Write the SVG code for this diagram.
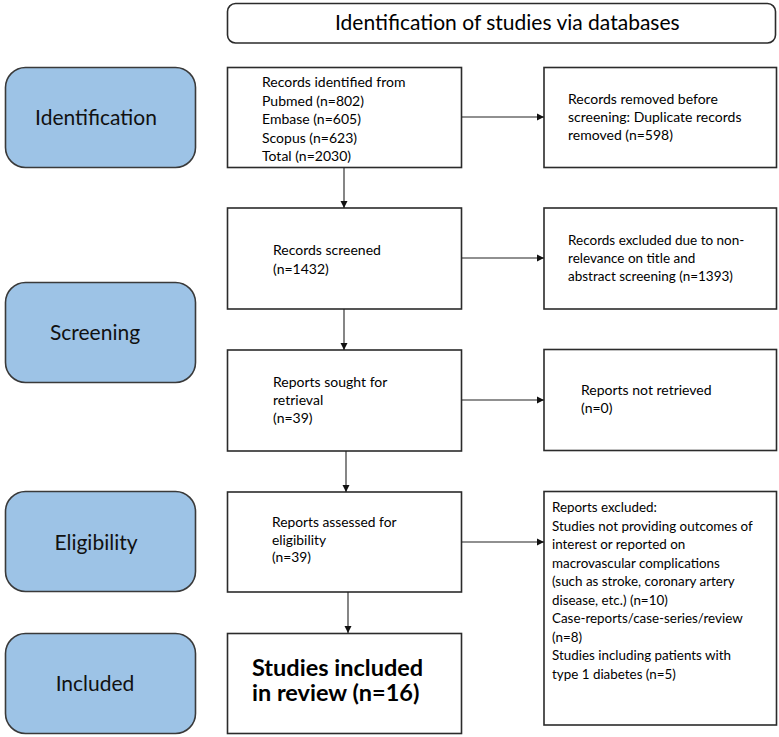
<svg xmlns="http://www.w3.org/2000/svg" width="779" height="737" viewBox="0 0 779 737">
<defs>
<style>
.box{fill:#fff;stroke:#2b2b2b;stroke-width:1.6}
.phase{fill:#9dc3e6;stroke:#3a3a3a;stroke-width:1.6}
.t{font-family:Lato,"Open Sans","Liberation Sans",sans-serif;font-size:14px;fill:#000}
.ph{font-family:Lato,"Open Sans","Liberation Sans",sans-serif;font-size:21px;fill:#111;text-anchor:middle}
.big{font-family:Lato,"Open Sans","Liberation Sans",sans-serif;font-size:23.5px;font-weight:bold;fill:#000}
.c{stroke:#222;stroke-width:1.1;fill:none;marker-end:url(#ah)}
</style>
<marker id="ah" markerUnits="userSpaceOnUse" markerWidth="8" markerHeight="8" refX="7" refY="4" orient="auto">
<path d="M0,0.5 L7,4 L0,7.5 z" fill="#111"/>
</marker>
</defs>
<rect width="779" height="737" fill="#fff"/>
<g id="title">
<rect class="box" x="227.5" y="3.5" width="548" height="39.5" rx="8"/>
<text class="t" x="335" y="30" style="font-size:21px">Identification of studies via databases</text>
</g>
<g id="phase-identification"><rect class="phase" x="5.5" y="67.5" width="190" height="100" rx="20"/><text class="ph" x="96" y="124.5">Identification</text></g>
<g id="phase-screening"><rect class="phase" x="5.5" y="282.5" width="190" height="100" rx="20"/><text class="ph" x="95" y="339.5">Screening</text></g>
<g id="phase-eligibility"><rect class="phase" x="5.5" y="491.5" width="190" height="100" rx="20"/><text class="ph" x="96" y="549.5">Eligibility</text></g>
<g id="phase-included"><rect class="phase" x="5.5" y="633.5" width="190" height="100" rx="20"/><text class="ph" x="95" y="690.5">Included</text></g>

<g id="identified"><rect class="box" x="227.5" y="67.5" width="234" height="100"/>
<text class="t"><tspan x="262" y="87">Records identified from</tspan><tspan x="262" y="105.5">Pubmed (n=802)</tspan><tspan x="262" y="124">Embase (n=605)</tspan><tspan x="262" y="142.5">Scopus (n=623)</tspan><tspan x="262" y="161">Total (n=2030)</tspan></text></g>
<g id="removed"><rect class="box" x="544" y="67.5" width="232.5" height="100"/>
<text class="t"><tspan x="568" y="104">Records removed before</tspan><tspan x="568" y="122">screening: Duplicate records</tspan><tspan x="568" y="140">removed (n=598)</tspan></text></g>

<g id="screened"><rect class="box" x="227.5" y="208" width="234" height="101"/>
<text class="t"><tspan x="273" y="255">Records screened</tspan><tspan x="273" y="274">(n=1432)</tspan></text></g>
<g id="excluded-screen"><rect class="box" x="544" y="208" width="232.5" height="101"/>
<text class="t" style="font-size:13.5px"><tspan x="568" y="245">Records excluded due to non-</tspan><tspan x="568" y="263">relevance on title and</tspan><tspan x="568" y="281">abstract screening (n=1393)</tspan></text></g>

<g id="sought"><rect class="box" x="227.5" y="350" width="234" height="101"/>
<text class="t"><tspan x="273" y="387">Reports sought for</tspan><tspan x="273" y="405">retrieval</tspan><tspan x="273" y="423">(n=39)</tspan></text></g>
<g id="not-retrieved"><rect class="box" x="544" y="349.5" width="232.5" height="101"/>
<text class="t"><tspan x="581" y="395">Reports not retrieved</tspan><tspan x="581" y="413">(n=0)</tspan></text></g>

<g id="assessed"><rect class="box" x="227.5" y="492" width="234" height="100"/>
<text class="t" style="font-size:13.8px"><tspan x="272" y="527">Reports assessed for</tspan><tspan x="272" y="544.5">eligibility</tspan><tspan x="272" y="562">(n=39)</tspan></text></g>
<g id="reports-excluded"><rect class="box" x="544" y="491.5" width="232.5" height="233.5"/>
<text class="t" style="font-size:13.4px"><tspan x="552" y="512">Reports excluded:</tspan><tspan x="552" y="530.5">Studies not providing outcomes of</tspan><tspan x="552" y="549">interest or reported on</tspan><tspan x="552" y="567.5">macrovascular complications</tspan><tspan x="552" y="586">(such as stroke, coronary artery</tspan><tspan x="552" y="604.5">disease, etc.) (n=10)</tspan><tspan x="552" y="623">Case-reports/case-series/review</tspan><tspan x="552" y="641.5">(n=8)</tspan><tspan x="552" y="660">Studies including patients with</tspan><tspan x="552" y="678.5">type 1 diabetes (n=5)</tspan></text></g>

<g id="included"><rect class="box" x="227.5" y="633.5" width="234" height="100"/>
<text class="big"><tspan x="252" y="675.5">Studies included</tspan><tspan x="252" y="700.5">in review (n=16)</tspan></text></g>

<g id="connectors">
<line class="c" x1="344" y1="168" x2="344" y2="208"/>
<line class="c" x1="344" y1="309" x2="344" y2="350"/>
<line class="c" x1="346" y1="451" x2="346" y2="492"/>
<line class="c" x1="348" y1="592" x2="348" y2="633"/>
<line class="c" x1="462" y1="117" x2="544" y2="117"/>
<line class="c" x1="462" y1="258" x2="544" y2="258"/>
<line class="c" x1="462" y1="400" x2="544" y2="400"/>
<line class="c" x1="462" y1="542" x2="544" y2="542"/>
</g>
</svg>
